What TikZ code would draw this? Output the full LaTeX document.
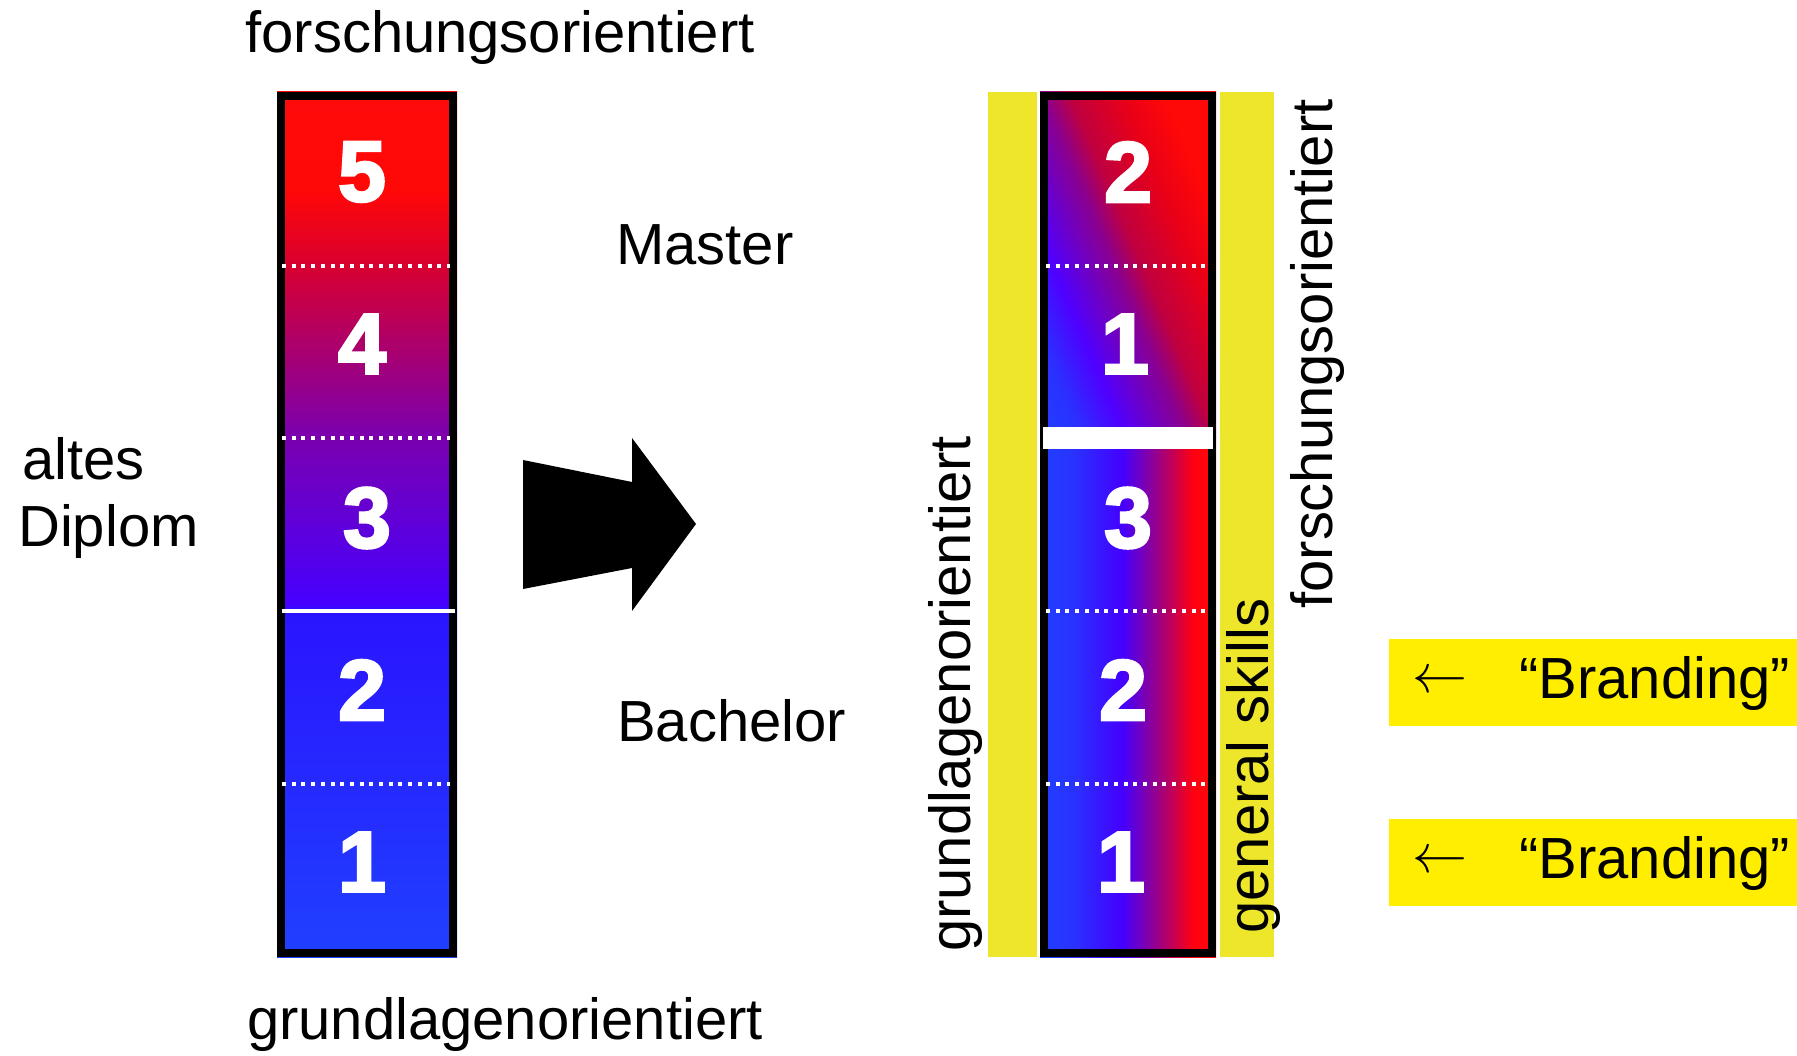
\documentclass[tikz,border=0pt]{standalone}
\usepackage{fontspec}
\setmainfont{Liberation Sans}
\newfontfamily\numfont{Liberation Sans}[BoldFeatures={FakeBold=3}]
\definecolor{boxyellow}{RGB}{255,238,0}
\definecolor{stripyellow}{RGB}{237,230,43}
\pgfdeclareverticalshading{leftbarshade}{100bp}{%
  rgb(0bp)=(0.125,0.251,1); rgb(25bp)=(0.125,0.251,1);
  rgb(45bp)=(0.165,0.078,1); rgb(45.4bp)=(0.275,0,1);
  rgb(55bp)=(0.478,0,0.69); rgb(65bp)=(0.847,0,0.188);
  rgb(69.3bp)=(1,0.03,0.03); rgb(75bp)=(1,0.04,0.04); rgb(100bp)=(1,0.04,0.04)}
\pgfdeclarehorizontalshading{rightbotshade}{100bp}{%
  rgb(0bp)=(0.125,0.251,1); rgb(25bp)=(0.125,0.251,1);
  rgb(35bp)=(0.165,0.19,1); rgb(48.5bp)=(0.267,0,1);
  rgb(59bp)=(0.627,0,0.5); rgb(68.5bp)=(1,0,0.063);
  rgb(75bp)=(1,0.04,0.04); rgb(100bp)=(1,0.04,0.04)}
\pgfdeclarehorizontalshading{righttopshade}{100bp}{%
  rgb(0bp)=(0.125,0.251,1); rgb(31.5bp)=(0.125,0.251,1);
  rgb(36.25bp)=(0.165,0.19,1); rgb(41.25bp)=(0.31,0,1);
  rgb(48.4bp)=(0.54,0,0.565); rgb(51.6bp)=(0.75,0,0.25);
  rgb(57.5bp)=(0.91,0,0.094); rgb(62.5bp)=(1,0.03,0.03);
  rgb(100bp)=(1,0.04,0.04)}
\begin{document}
\begin{tikzpicture}[x=1pt,y=-1pt,
  lbl/.style={font=\fontsize{58}{60}\selectfont, inner sep=0pt, anchor=base},
  num/.style={font=\fontsize{86}{88}\selectfont\numfont\bfseries, text=white, inner sep=0pt},
  dots/.style={white, line width=4pt, dash pattern=on 4pt off 5.7pt},
  barframe/.style={draw=black, line width=8pt},
  brandbox/.style={fill=boxyellow, minimum width=408pt, minimum height=87pt, inner sep=0pt, anchor=north west},
  arrowlbl/.style={inner sep=0pt}]
\useasboundingbox (0,0) rectangle (1797,1056);

% ---------- left bar (altes Diplom) ----------
\shade[shading=leftbarshade] (277,92) rectangle (457,957);
\draw[barframe] (281,96) rectangle (453,953);
\draw[dots] (282,266) -- (450,266);
\draw[dots] (282,438) -- (450,438);
\draw[dots] (282,784) -- (450,784);
\draw[white, line width=4pt] (282,611) -- (455,611);
\node[num] (l5) at (362,172) {5};
\node[num] (l4) at (362,344) {4};
\node[num] (l3) at (367,518) {3};
\node[num] (l2) at (362,690) {2};
\node[num] (l1) at (362,862) {1};

% ---------- big arrow ----------
\fill[black] (523,460) -- (632,482) -- (632,438) -- (696,524) -- (632,611) -- (632,568) -- (523,589) -- cycle;

% ---------- yellow strips ----------
\fill[stripyellow] (988,92) rectangle (1037,957);
\fill[stripyellow] (1220,92) rectangle (1274,957);

% ---------- right bar (Bachelor / Master) ----------
\shade[shading=rightbotshade] (1040,438) rectangle (1216,957);
\begin{scope}
  \clip (1040,92) rectangle (1216,438);
  \shade[shading=righttopshade, shading angle=23] (928,65) rectangle (1328,465);
\end{scope}
\draw[barframe] (1044,96) rectangle (1212,953);
\draw[dots] (1046,266) -- (1210,266);
\draw[dots] (1046,611) -- (1210,611);
\draw[dots] (1046,784) -- (1210,784);
\draw[white, line width=22pt] (1043,438) -- (1213,438);
\node[num] (r2m) at (1128,172) {2};
\node[num] (r1m) at (1125,344) {1};
\node[num] (r3) at (1128,518) {3};
\node[num] (r2) at (1123,690) {2};
\node[num] (r1) at (1121,862) {1};

% ---------- labels ----------
\node[lbl] (topfo) at (500,53) {forschungsorientiert};
\node[lbl] (botgr) at (505,1039) {grundlagenorientiert};
\node[lbl, anchor=base west] (altes) at (22,479) {altes};
\node[lbl, anchor=base west] (diplom) at (18,546) {Diplom};
\node[lbl, anchor=base west] (master) at (616,265) {Master};
\node[lbl, anchor=base west] (bachelor) at (617,741) {Bachelor};
\node[lbl, rotate=90] (vgr) at (970,694) {grundlagenorientiert};
\node[lbl, rotate=90] (vfo) at (1332,354) {forschungsorientiert};
\node[lbl, rotate=90] (vgs) at (1268,766) {general skills};

% ---------- Branding boxes ----------
\node[brandbox] (bb1) at (1389,639) {};
\node[arrowlbl] (ba1) at (1440,682) {\scalebox{5.5}{$\leftarrow$}};
\node[lbl, anchor=base west] (bt1) at (1519,698) {“Branding”};
\node[brandbox] (bb2) at (1389,819) {};
\node[arrowlbl] (ba2) at (1440,862) {\scalebox{5.5}{$\leftarrow$}};
\node[lbl, anchor=base west] (bt2) at (1519,878) {“Branding”};
\end{tikzpicture}
\end{document}
